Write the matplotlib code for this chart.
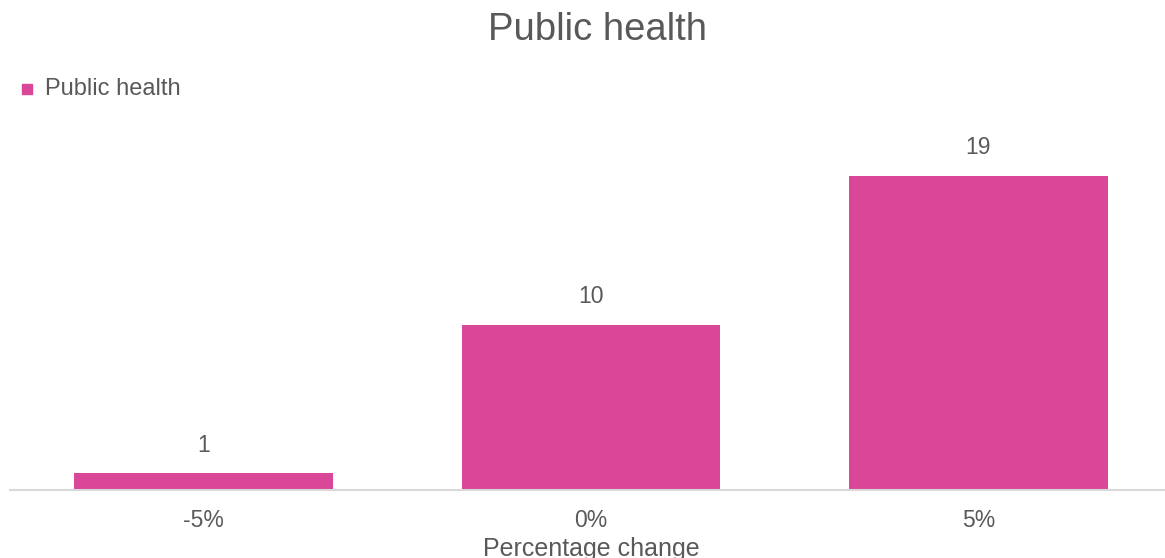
import matplotlib.pyplot as plt

categories = ['-5%', '0%', '5%']
values = [1, 10, 19]

plt.rcParams['font.family'] = ['Liberation Sans', 'DejaVu Sans']
pink = '#da4698'
grey = '#595959'

fig = plt.figure(figsize=(11.65, 5.58), dpi=100)
ax = fig.add_axes([10 / 1165, 68 / 558, 1162 / 1165, 370 / 558])

x = list(range(len(categories)))
bars = ax.bar(x, values, width=0.667, color=pink)
for xi, v in zip(x, values):
    ax.annotate(str(v), (xi, v), xytext=(0, 12), textcoords='offset points',
                ha='center', va='bottom', fontsize=16.5, color=grey)

ax.set_xlim(-0.5, 2.5)
ax.set_ylim(0, 22.4)
ax.set_xticks(x)
ax.set_xticklabels(categories, fontsize=16.5, color=grey)
ax.tick_params(axis='x', length=0, pad=14)
ax.set_yticks([])
for s in ['top', 'right', 'left']:
    ax.spines[s].set_visible(False)
ax.spines['bottom'].set_color('#d9d9d9')
ax.spines['bottom'].set_linewidth(1.5)
ax.set_xlabel('Percentage change', fontsize=18, color=grey, labelpad=3)

fig.text(597 / 1165, 1 - 30 / 558, 'Public health', ha='center', va='center',
         fontsize=27.5, color=grey)
fig.patches.append(plt.Rectangle((22 / 1165, 1 - 94 / 558), 10 / 1165, 10 / 558,
                                 transform=fig.transFigure, color=pink))
fig.text(45 / 1165, 1 - 89 / 558, 'Public health', ha='left', va='center',
         fontsize=17, color=grey)

plt.savefig('out.png', dpi=100)
